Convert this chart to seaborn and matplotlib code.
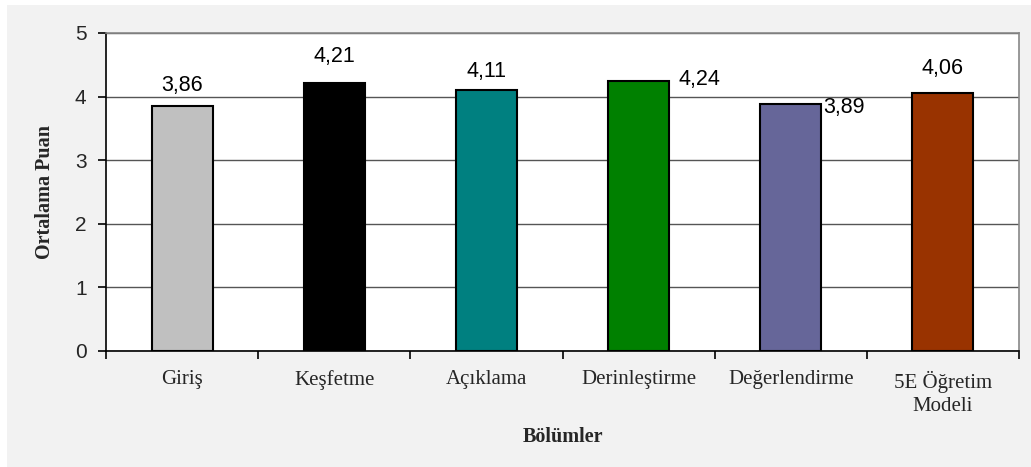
import matplotlib
matplotlib.use("Agg")
import matplotlib.pyplot as plt
from matplotlib.patches import Rectangle
from matplotlib.ticker import FixedLocator
import seaborn as sns
import pandas as pd

# Section averages
bolumler = ["Giriş", "Keşfetme", "Açıklama", "Derinleştirme", "Değerlendirme", "5E Öğretim\nModeli"]
ortalama = [3.86, 4.21, 4.11, 4.24, 3.89, 4.06]
renkler = ["#c0c0c0", "#000000", "#008080", "#008000", "#666699", "#993300"]

# where each value label sits relative to its bar: (anchor, dx px, dy px)
etiket_yeri = [("top", 0, 20), ("top", 0, 27), ("top", 0, 18),
               ("right", 9, 2), ("right", 2, -4), ("top", 0, 24)]

df = pd.DataFrame({"Bölüm": bolumler, "Puan": ortalama})

sns.set_theme(style="white")
plt.rcParams["font.family"] = ["Liberation Sans", "DejaVu Sans"]

fig = plt.figure(figsize=(10.31, 4.67), dpi=100, facecolor="white")
fig.patches.append(Rectangle((7 / 1031, 0), 1, 1 - 5 / 467, transform=fig.transFigure,
                             facecolor="#f2f2f2", edgecolor="none", zorder=-10))
ax = fig.add_axes([106 / 1031, 1 - 351 / 467, (1019 - 106) / 1031, (351 - 33) / 467])
ax.set_facecolor("white")

sns.barplot(data=df, x="Bölüm", y="Puan", hue="Bölüm", palette=renkler, legend=False,
            width=0.4, edgecolor="black", linewidth=1.5, saturation=1, ax=ax, zorder=3)

ax.set_ylim(0, 5)
ax.set_xlim(-0.5, len(bolumler) - 0.5)
ax.set_yticks([0, 1, 2, 3, 4, 5])
ax.yaxis.grid(True, color="#555555", linewidth=1)
ax.set_axisbelow(True)

for s in ["left", "bottom"]:
    ax.spines[s].set_color("black")
    ax.spines[s].set_linewidth(1.2)
for s in ["top", "right"]:
    ax.spines[s].set_color("#888888")
    ax.spines[s].set_linewidth(1.2)

ax.tick_params(axis="y", direction="out", length=6, width=1.2, color="black", pad=8,
               labelsize=15, left=True)
ax.tick_params(axis="x", which="major", length=0, pad=14)
ax.xaxis.set_minor_locator(FixedLocator([i - 0.5 for i in range(len(bolumler) + 1)]))
ax.tick_params(axis="x", which="minor", direction="out", length=6, width=1.2,
               color="black", bottom=True)
for lab in ax.get_xticklabels():
    lab.set_fontfamily("Liberation Serif")
    lab.set_fontsize(15)
    lab.set_linespacing(1.35)

ax.set_ylabel("Ortalama Puan", fontfamily="Liberation Serif", fontweight="bold", fontsize=14.5)
ax.yaxis.set_label_coords(-0.056, 0.5)
ax.set_xlabel("Bölümler", fontfamily="Liberation Serif", fontweight="bold", fontsize=14.5)
ax.xaxis.set_label_coords(0.5, -0.24)

for i, (bar, v) in enumerate(zip(ax.patches, ortalama)):
    yer, dx, dy = etiket_yeri[i]
    metin = f"{v:.2f}".replace(".", ",")
    if yer == "top":
        xy = (bar.get_x() + bar.get_width() / 2, bar.get_height())
        ha = "center"
    else:
        xy = (bar.get_x() + bar.get_width(), bar.get_height())
        ha = "left"
    ax.annotate(metin, xy=xy, xytext=(dx, dy), textcoords="offset pixels",
                ha=ha, va="center", fontsize=15.5, color="black", zorder=5)

fig.savefig("out.png", dpi=100, facecolor=fig.get_facecolor())
